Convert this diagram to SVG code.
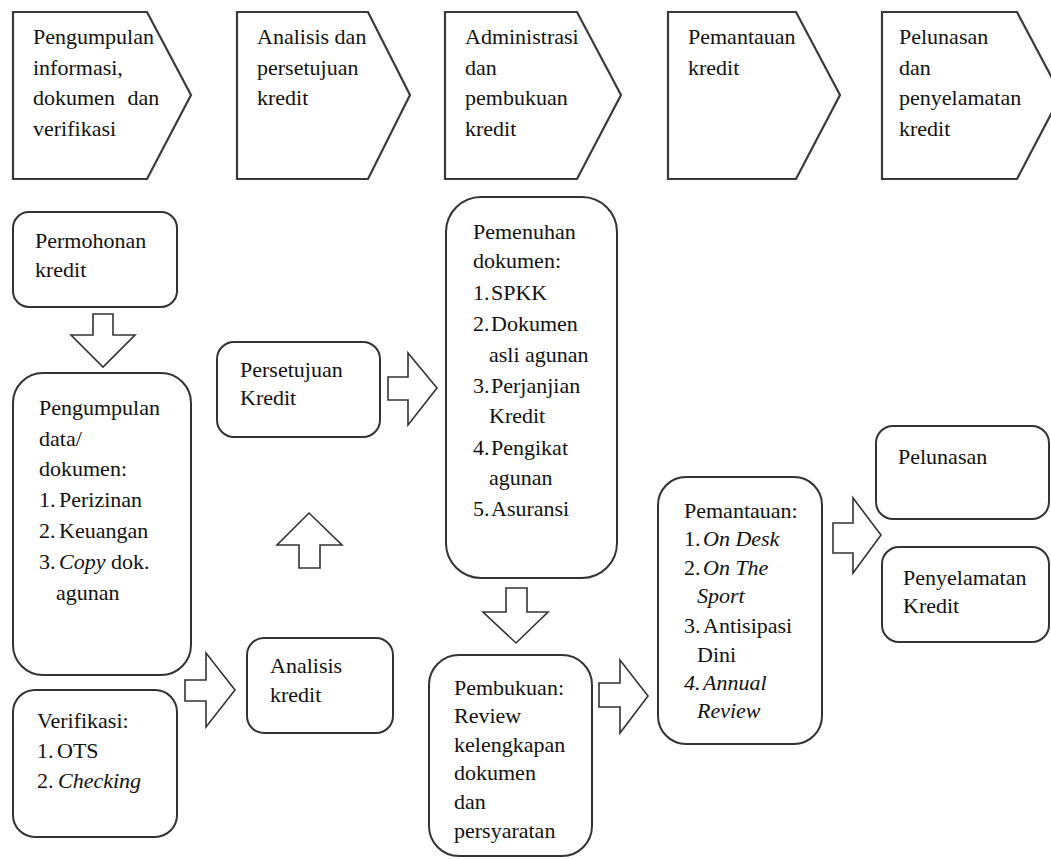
<svg xmlns="http://www.w3.org/2000/svg" width="1051" height="859" viewBox="0 0 1051 859">
<style>
.hd{fill:#fff;stroke:#3a3a3a;stroke-width:2.2;stroke-linejoin:miter}
.bx{fill:#fff;stroke:#333;stroke-width:2}
.ar{fill:#fff;stroke:#333;stroke-width:1.6;stroke-linejoin:miter}
text{font-family:"Liberation Serif","Times New Roman",serif;font-size:22px;fill:#111}
.i{font-style:italic}
</style>
<rect width="1051" height="859" fill="#fff"/>
<g id="h1"><path class="hd" d="M13,12 H147 L191,95 L147,179 H13 Z"/>
<text><tspan x="33" y="44">Pengumpulan</tspan><tspan x="33" y="75">informasi,</tspan><tspan x="33" y="105" word-spacing="7">dokumen dan</tspan><tspan x="33" y="136">verifikasi</tspan></text></g>
<g id="h2"><path class="hd" d="M237,12 H368 L410,95 L368,179 H237 Z"/>
<text><tspan x="257" y="44">Analisis dan</tspan><tspan x="257" y="75">persetujuan</tspan><tspan x="257" y="105">kredit</tspan></text></g>
<g id="h3"><path class="hd" d="M445,12 H577 L621,95 L577,179 H445 Z"/>
<text><tspan x="465" y="44">Administrasi</tspan><tspan x="465" y="75">dan</tspan><tspan x="465" y="105">pembukuan</tspan><tspan x="465" y="136">kredit</tspan></text></g>
<g id="h4"><path class="hd" d="M668,12 H796 L840,95 L796,179 H668 Z"/>
<text><tspan x="688" y="44">Pemantauan</tspan><tspan x="688" y="75">kredit</tspan></text></g>
<g id="h5"><path class="hd" d="M882,12 H1017 L1061,95 L1017,179 H882 Z"/>
<text><tspan x="899" y="44">Pelunasan</tspan><tspan x="899" y="75">dan</tspan><tspan x="899" y="105">penyelamatan</tspan><tspan x="899" y="136">kredit</tspan></text></g>

<g id="connectors">
<path class="ar" d="M93,314 H113 V335 H135 L103,367 L71,335 H93 Z"/>
<path class="ar" d="M388,377 H408 V353 L437,388 L408,425 V400 H388 Z"/>
<path class="ar" d="M299,568 V545 H277 L309,513 L342,545 H320 V568 Z"/>
<path class="ar" d="M185,680 H206 V653 L235,690 L206,727 V701 H185 Z"/>
<path class="ar" d="M506,588 H527 V612 H548 L516,643 L483,612 H506 Z"/>
<path class="ar" d="M599,683 H620 V660 L648,696 L620,733 V707 H599 Z"/>
<path class="ar" d="M833,523 H853 V498 L881,535 L853,573 V553 H833 Z"/>
</g>

<g id="n-permohonan"><rect class="bx" x="13" y="212" width="164" height="95" rx="16"/>
<text><tspan x="35" y="248">Permohonan</tspan><tspan x="35" y="277">kredit</tspan></text></g>
<g id="n-pengumpulan"><rect class="bx" x="13" y="373" width="178" height="302" rx="30"/>
<text><tspan x="39" y="415">Pengumpulan</tspan><tspan x="39" y="446">data/</tspan><tspan x="39" y="476">dokumen:</tspan><tspan x="39" y="507">1.</tspan><tspan x="59" y="507">Perizinan</tspan><tspan x="39" y="538">2.</tspan><tspan x="59" y="538">Keuangan</tspan><tspan x="39" y="569">3.</tspan><tspan x="59" y="569" class="i">Copy</tspan><tspan> dok.</tspan><tspan x="56" y="600">agunan</tspan></text></g>
<g id="n-verifikasi"><rect class="bx" x="13" y="690" width="164" height="147" rx="22"/>
<text><tspan x="37" y="728">Verifikasi:</tspan><tspan x="37" y="758">1.</tspan><tspan x="57" y="758">OTS</tspan><tspan x="37" y="788">2.</tspan><tspan x="58" y="788" class="i">Checking</tspan></text></g>
<g id="n-persetujuan"><rect class="bx" x="217" y="342" width="163" height="95" rx="17"/>
<text><tspan x="240" y="377">Persetujuan</tspan><tspan x="240" y="405">Kredit</tspan></text></g>
<g id="n-analisis"><rect class="bx" x="247" y="638" width="146" height="95" rx="17"/>
<text><tspan x="270" y="673">Analisis</tspan><tspan x="270" y="702">kredit</tspan></text></g>
<g id="n-pemenuhan"><rect class="bx" x="446" y="197" width="171" height="381" rx="35"/>
<text><tspan x="473" y="239">Pemenuhan</tspan><tspan x="473" y="268">dokumen:</tspan><tspan x="473" y="300">1.</tspan><tspan x="491" y="300">SPKK</tspan><tspan x="473" y="331">2.</tspan><tspan x="491" y="331">Dokumen</tspan><tspan x="489" y="362">asli agunan</tspan><tspan x="473" y="393">3.</tspan><tspan x="491" y="393">Perjanjian</tspan><tspan x="489" y="423">Kredit</tspan><tspan x="473" y="455">4.</tspan><tspan x="491" y="455">Pengikat</tspan><tspan x="489" y="485">agunan</tspan><tspan x="473" y="516">5.</tspan><tspan x="491" y="516">Asuransi</tspan></text></g>
<g id="n-pembukuan"><rect class="bx" x="429" y="655" width="163" height="201" rx="30"/>
<text><tspan x="454" y="695">Pembukuan:</tspan><tspan x="454" y="723">Review</tspan><tspan x="454" y="752">kelengkapan</tspan><tspan x="454" y="780">dokumen</tspan><tspan x="454" y="809">dan</tspan><tspan x="454" y="838">persyaratan</tspan></text></g>
<g id="n-pemantauan"><rect class="bx" x="658" y="477" width="164" height="267" rx="28"/>
<text><tspan x="684" y="518">Pemantauan:</tspan><tspan x="684" y="546">1.</tspan><tspan x="703" y="546" class="i">On Desk</tspan><tspan x="684" y="575">2.</tspan><tspan x="703" y="575" class="i">On The</tspan><tspan x="697" y="603" class="i">Sport</tspan><tspan x="684" y="633">3.</tspan><tspan x="703" y="633">Antisipasi</tspan><tspan x="697" y="662">Dini</tspan><tspan x="684" y="690" class="i">4.</tspan><tspan x="703" y="690" class="i">Annual</tspan><tspan x="697" y="718" class="i">Review</tspan></text></g>
<g id="n-pelunasan"><rect class="bx" x="876" y="426" width="173" height="93" rx="17"/>
<text><tspan x="898" y="464">Pelunasan</tspan></text></g>
<g id="n-penyelamatan"><rect class="bx" x="882" y="547" width="167" height="95" rx="17"/>
<text><tspan x="903" y="585">Penyelamatan</tspan><tspan x="903" y="613">Kredit</tspan></text></g>
</svg>
